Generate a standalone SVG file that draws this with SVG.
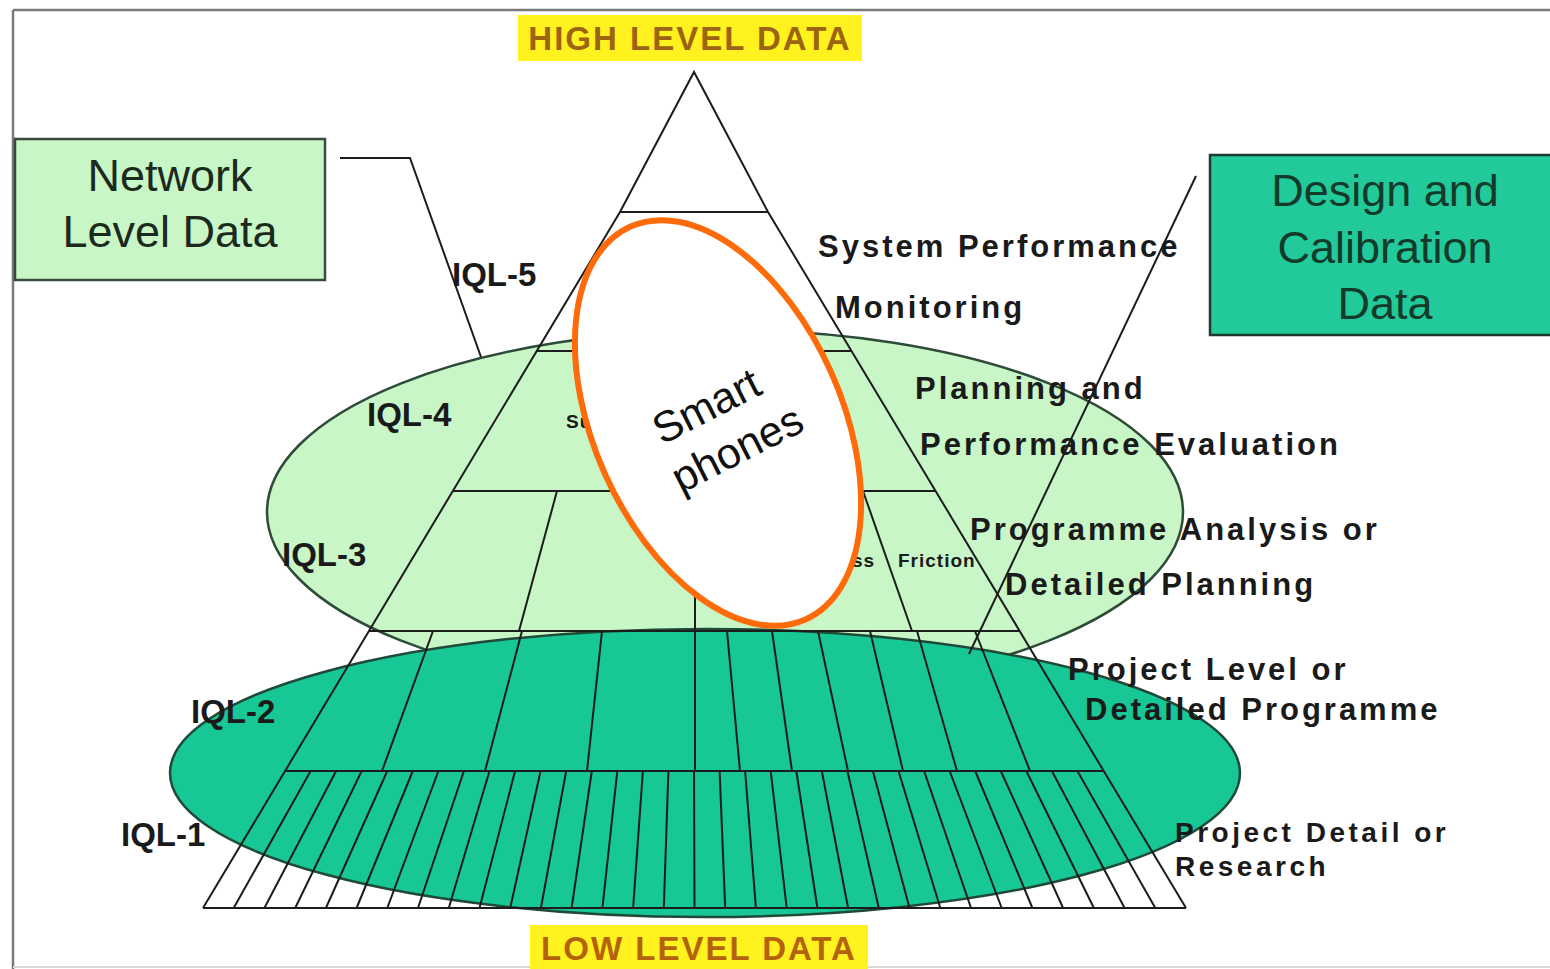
<svg xmlns="http://www.w3.org/2000/svg" width="1550" height="969" viewBox="0 0 1550 969">
<style>
.ln{stroke:#1c1c1c;stroke-width:2;fill:none}
.lbl{font-family:"Liberation Sans",Arial,sans-serif;font-weight:bold;font-size:31px;letter-spacing:3px;fill:#1a1a1a}
.lbl2{font-family:"Liberation Sans",Arial,sans-serif;font-weight:bold;font-size:28px;letter-spacing:3.5px;fill:#1a1a1a}
.iql{font-family:"Liberation Sans",Arial,sans-serif;font-weight:bold;font-size:33px;fill:#1a1a1a}
.small{font-family:"Liberation Sans",Arial,sans-serif;font-weight:bold;font-size:19px;letter-spacing:1px;fill:#1a1a1a}
.box{font-family:"Liberation Sans",Arial,sans-serif;font-size:45px;text-anchor:middle}
.lvl{font-family:"Liberation Sans",Arial,sans-serif;font-weight:bold;font-size:33px;letter-spacing:2px}
</style>
<rect width="1550" height="969" fill="#ffffff"/>
<g id="frame">
<line x1="13" y1="10" x2="1550" y2="10" stroke="#7a7a7a" stroke-width="2.5"/>
<line x1="13" y1="10" x2="13" y2="969" stroke="#7a7a7a" stroke-width="2.5"/>
<line x1="13" y1="967" x2="1550" y2="967" stroke="#d8d8d8" stroke-width="2"/>
</g>
<g id="high-level-data">
<rect x="518" y="15" width="344" height="46" fill="#fff21e"/>
<text class="lvl" x="690" y="50" text-anchor="middle" fill="#9c6410">HIGH LEVEL DATA</text>
</g>
<g id="low-level-data">
<rect x="530" y="925" width="338" height="44" fill="#fff21e"/>
<text class="lvl" x="699" y="960" text-anchor="middle" fill="#b4620c">LOW LEVEL DATA</text>
</g>
<g id="iql-3-4-ellipse">
<ellipse cx="725" cy="512" rx="458" ry="182" fill="#c8f6c6" stroke="#2e4a38" stroke-width="2.5"/>
</g>
<g id="iql-1-2-ellipse">
<ellipse cx="705" cy="773" rx="535" ry="144" fill="#17c795" stroke="#1f4a38" stroke-width="2.5"/>
</g>
<g id="pyramid">
<polyline class="ln" points="203,908 620,212 694,72 768,212 1186,908"/>
<line class="ln" x1="620" y1="212" x2="768" y2="212"/>
<line class="ln" x1="537" y1="351" x2="852" y2="351"/>
<line class="ln" x1="453" y1="491" x2="935" y2="491"/>
<line class="ln" x1="369" y1="631" x2="1019" y2="631"/>
<line class="ln" x1="285" y1="771" x2="1103" y2="771"/>
<line class="ln" x1="203" y1="908" x2="1186" y2="908"/>
<line class="ln" x1="557" y1="491" x2="519" y2="631"/>
<line class="ln" x1="695" y1="491" x2="695" y2="631"/>
<line class="ln" x1="863" y1="491" x2="912" y2="631"/>
<line class="ln" x1="433" y1="631" x2="382" y2="771"/>
<line class="ln" x1="522" y1="631" x2="485" y2="771"/>
<line class="ln" x1="602" y1="631" x2="587" y2="771"/>
<line class="ln" x1="695" y1="631" x2="695" y2="771"/>
<line class="ln" x1="727" y1="631" x2="740" y2="771"/>
<line class="ln" x1="772" y1="631" x2="792" y2="771"/>
<line class="ln" x1="818" y1="631" x2="848" y2="771"/>
<line class="ln" x1="870" y1="631" x2="903" y2="771"/>
<line class="ln" x1="917" y1="631" x2="957" y2="771"/>
<line class="ln" x1="975" y1="631" x2="1030" y2="771"/>
<path class="ln" d="M310.6,771L233.7,908M336.1,771L264.4,908M361.7,771L295.2,908M387.3,771L325.9,908M412.8,771L356.6,908M438.4,771L387.3,908M463.9,771L418,908M489.5,771L448.8,908M515.1,771L479.5,908M540.6,771L510.2,908M566.2,771L540.9,908M591.8,771L571.6,908M617.3,771L602.4,908M642.9,771L633.1,908M668.4,771L663.8,908M694,771L694.5,908M719.6,771L725.2,908M745.1,771L755.9,908M770.7,771L786.7,908M796.3,771L817.4,908M821.8,771L848.1,908M847.4,771L878.8,908M872.9,771L909.5,908M898.5,771L940.3,908M924.1,771L971,908M949.6,771L1001.7,908M975.2,771L1032.4,908M1000.8,771L1063.1,908M1026.3,771L1093.9,908M1051.9,771L1124.6,908M1077.4,771L1155.3,908"/>
<text class="small" x="566" y="428">Su</text>
<text class="small" x="852" y="567">ss</text>
<text class="small" x="898" y="567">Friction</text>
</g>
<g id="connectors">
<polyline class="ln" points="340,158 410,158 481,357"/>
<line class="ln" x1="1196" y1="176" x2="969" y2="654"/>
</g>
<g id="iql-labels">
<text class="iql" x="452" y="286">IQL-5</text>
<text class="iql" x="367" y="426">IQL-4</text>
<text class="iql" x="282" y="566">IQL-3</text>
<text class="iql" x="191" y="723">IQL-2</text>
<text class="iql" x="121" y="846">IQL-1</text>
</g>
<g id="level-labels">
<text class="lbl" x="818" y="257">System Performance</text>
<text class="lbl" x="835" y="318">Monitoring</text>
<text class="lbl" x="915" y="399">Planning and</text>
<text class="lbl" x="920" y="455">Performance Evaluation</text>
<text class="lbl" x="970" y="540">Programme Analysis or</text>
<text class="lbl" x="1005" y="595">Detailed Planning</text>
<text class="lbl" x="1068" y="680">Project Level or</text>
<text class="lbl" x="1085" y="720">Detailed Programme</text>
<text class="lbl2" x="1175" y="842">Project Detail or</text>
<text class="lbl2" x="1175" y="876">Research</text>
</g>
<g id="network-level-data">
<rect x="15" y="139" width="310" height="141" fill="#c8f6c6" stroke="#3a4a3c" stroke-width="2.5"/>
<text class="box" x="170" y="191" fill="#1c2a1e">Network</text>
<text class="box" x="170" y="247" fill="#1c2a1e">Level Data</text>
</g>
<g id="design-calibration-data">
<rect x="1210" y="155" width="345" height="180" fill="#22c99a" stroke="#1d3a2c" stroke-width="2.5"/>
<text class="box" x="1385" y="206" fill="#143a2a">Design and</text>
<text class="box" x="1385" y="263" fill="#143a2a">Calibration</text>
<text class="box" x="1385" y="319" fill="#143a2a">Data</text>
</g>
<g id="smart-phones">
<ellipse cx="0" cy="0" rx="215" ry="124" transform="translate(718,423) rotate(66)" fill="#ffffff" stroke="#ff6a0a" stroke-width="6"/>
<g transform="translate(722,428) rotate(-27)" font-family="Liberation Sans, Arial, sans-serif" font-size="43" text-anchor="middle" fill="#111">
<text x="-4" y="-12">Smart</text>
<text x="4" y="40">phones</text>
</g>
</g>
</svg>
